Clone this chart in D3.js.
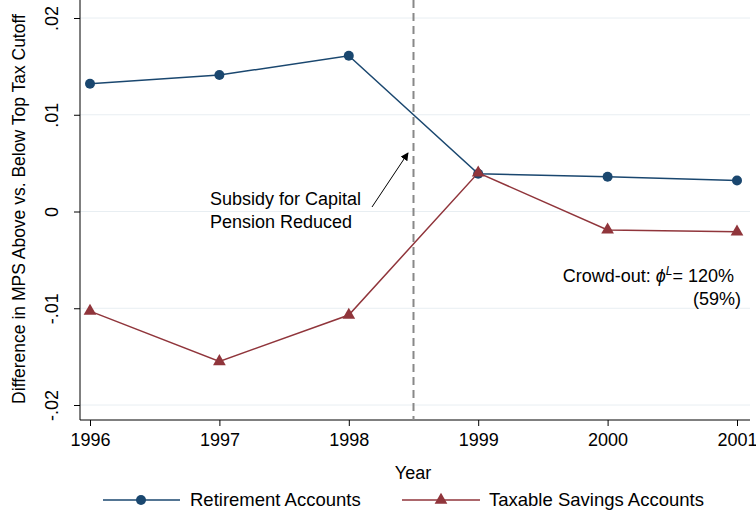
<!DOCTYPE html>
<html><head><meta charset="utf-8">
<script src="https://cdn.jsdelivr.net/npm/d3@7"></script>
<style>body{margin:0;background:#fff}text{font-family:"Liberation Sans",Arial,sans-serif}</style>
</head><body>
<svg width="756" height="515"></svg>
<script>
var years = [1996, 1997, 1998, 1999, 2000, 2001];
var retirement = [0.0132, 0.0141, 0.0161, 0.0039, 0.0036, 0.0032];
var taxable = [-0.0103, -0.0155, -0.0107, 0.0040, -0.0019, -0.0021];
var yTicks = [-0.02, -0.01, 0, 0.01, 0.02];
var yTickLabels = ["-.02", "-.01", "0", ".01", ".02"];

var svg = d3.select("svg");
var blue = "#1a476f", red = "#90353b";
var fs = 18;
var x = d3.scaleLinear().domain([1996, 2001]).range([90, 737]);
var y = d3.scaleLinear().domain([-0.02, 0.02]).range([405, 18]);

// grid
svg.append("g").selectAll("line").data(yTicks).enter().append("line")
  .attr("x1", 80).attr("x2", 750).attr("y1", d => y(d)).attr("y2", d => y(d))
  .attr("stroke", "#e8eef2").attr("stroke-width", 1);

// axes
var gy = svg.append("g").attr("transform", "translate(80,0)")
  .call(d3.axisLeft(y).tickValues(yTicks).tickSize(6).tickFormat((d, i) => yTickLabels[i]));
gy.select(".domain").attr("d", "M0,0V420");
gy.selectAll("text").attr("font-size", fs).attr("fill", "#000")
  .attr("transform", "rotate(-90)").attr("x", 0).attr("y", -22).attr("dy", 0).attr("text-anchor", "middle");

var gx = svg.append("g").attr("transform", "translate(0,420)")
  .call(d3.axisBottom(x).tickValues(years).tickSize(6).tickFormat(d3.format("d")));
gx.select(".domain").attr("d", "M80,0H750");
gx.selectAll("text").attr("font-size", fs).attr("fill", "#000").attr("dy", "0.95em");

svg.append("text").attr("x", 413).attr("y", 479).attr("text-anchor", "middle").attr("font-size", fs).text("Year");
svg.append("text").attr("transform", "translate(25,209) rotate(-90)").attr("text-anchor", "middle")
  .attr("font-size", 17.5).text("Difference in MPS Above vs. Below Top Tax Cutoff");

// dashed line
svg.append("line").attr("x1", x(1998.5)).attr("x2", x(1998.5)).attr("y1", 0).attr("y2", 420)
  .attr("stroke", "#888").attr("stroke-width", 2).attr("stroke-dasharray", "8,5");

var line = d3.line().x((d, i) => x(years[i])).y(d => y(d));
svg.append("path").datum(retirement).attr("d", line).attr("fill", "none").attr("stroke", blue).attr("stroke-width", 1.5);
svg.append("path").datum(taxable).attr("d", line).attr("fill", "none").attr("stroke", red).attr("stroke-width", 1.5);
svg.append("g").selectAll("circle").data(retirement).enter().append("circle")
  .attr("cx", (d, i) => x(years[i])).attr("cy", d => y(d)).attr("r", 5).attr("fill", blue);
var tri = d3.symbol().type(d3.symbolTriangle).size(70);
svg.append("g").selectAll("path").data(taxable).enter().append("path")
  .attr("d", tri).attr("transform", (d, i) => "translate(" + x(years[i]) + "," + y(d) + ")").attr("fill", red);

// annotation
svg.append("defs").append("marker").attr("id", "ah").attr("viewBox", "0 0 10 10").attr("refX", 9).attr("refY", 5)
  .attr("markerWidth", 8).attr("markerHeight", 8).attr("orient", "auto")
  .append("path").attr("d", "M0,0L10,5L0,10z").attr("fill", "#000");
svg.append("line").attr("x1", 372).attr("y1", 207).attr("x2", 408).attr("y2", 153)
  .attr("stroke", "#000").attr("stroke-width", 1).attr("marker-end", "url(#ah)");
svg.append("text").attr("x", 210).attr("y", 205).attr("font-size", fs).text("Subsidy for Capital");
svg.append("text").attr("x", 210).attr("y", 228).attr("font-size", fs).text("Pension Reduced");
var co = svg.append("text").attr("x", 734).attr("y", 282).attr("text-anchor", "end").attr("font-size", fs);
co.append("tspan").text("Crowd-out: ");
co.append("tspan").attr("font-style", "italic").text("\u03D5");
co.append("tspan").attr("font-style", "italic").attr("font-size", 12).attr("dy", -7).text("L");
co.append("tspan").attr("dy", 7).text("= 120%");
svg.append("text").attr("x", 741).attr("y", 305).attr("text-anchor", "end").attr("font-size", fs).text("(59%)");

// legend
var lg = svg.append("g");
lg.append("line").attr("x1", 103).attr("x2", 180).attr("y1", 500).attr("y2", 500).attr("stroke", blue).attr("stroke-width", 1.5);
lg.append("circle").attr("cx", 141).attr("cy", 500).attr("r", 5).attr("fill", blue);
lg.append("text").attr("x", 190).attr("y", 506).attr("font-size", 18.5).text("Retirement Accounts");
lg.append("line").attr("x1", 402).attr("x2", 480).attr("y1", 500).attr("y2", 500).attr("stroke", red).attr("stroke-width", 1.5);
lg.append("path").attr("d", tri).attr("transform", "translate(441,500)").attr("fill", red);
lg.append("text").attr("x", 489).attr("y", 506).attr("font-size", 18.5).text("Taxable Savings Accounts");
</script>
</body></html>
